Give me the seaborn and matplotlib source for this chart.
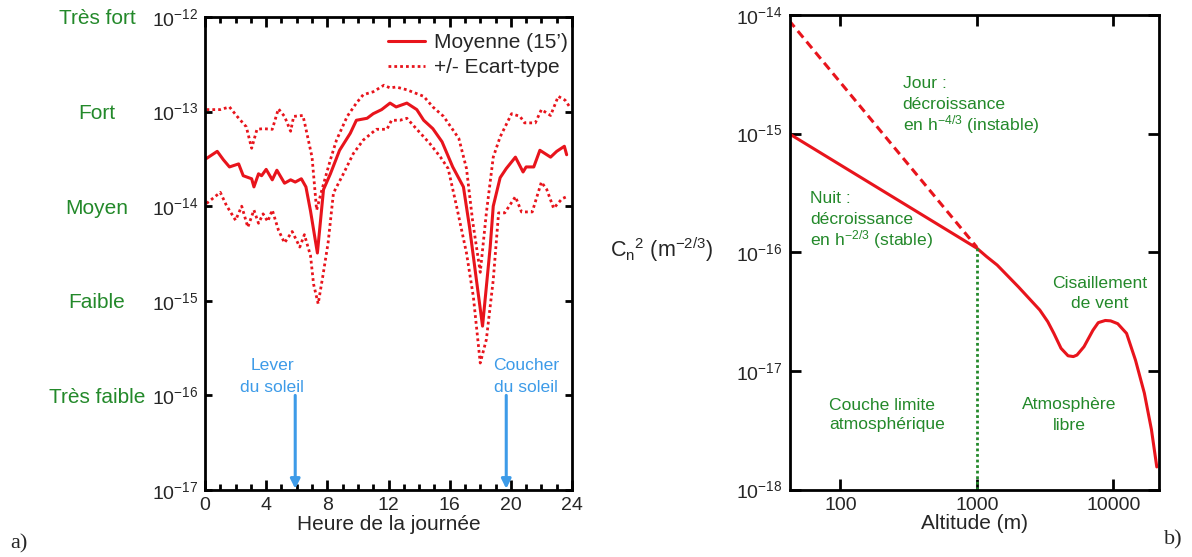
import matplotlib
matplotlib.use("Agg")
import matplotlib.pyplot as plt
import seaborn as sns
from matplotlib.ticker import MultipleLocator, NullLocator, FixedLocator, FixedFormatter

# ---------------- Data : panel a) ----------------
hours_mean = [0.1, 0.8, 1.2, 1.6, 2.2, 2.5, 3.05, 3.2, 3.5, 3.7, 4.0, 4.4, 4.7, 5.2, 5.6,
              5.9, 6.3, 6.6, 6.9, 7.35, 7.75, 8.2, 8.8, 9.5, 9.9, 10.6, 11.0, 11.55, 12.1, 12.5,
              13.2, 13.85, 14.3, 14.9, 15.5, 16.2, 16.9, 17.3, 17.75, 18.15, 18.65, 18.85, 19.3, 19.7, 20.3,
              20.8, 21.0, 21.5, 21.9, 22.6, 23.0, 23.5, 23.65]
cn2_mean = [3.2e-14, 3.8e-14, 3.1e-14, 2.6e-14, 2.8e-14, 2.1e-14, 1.95e-14, 1.6e-14, 2.2e-14, 2.1e-14,
            2.45e-14, 1.9e-14, 2.4e-14, 1.75e-14, 1.9e-14, 1.8e-14, 1.95e-14, 1.6e-14, 8.9e-15, 3.2e-15,
            1.5e-14, 2.2e-14, 3.9e-14, 5.9e-14, 8.1e-14, 8.5e-14, 9.5e-14, 1.05e-13, 1.23e-13, 1.12e-13,
            1.23e-13, 1.05e-13, 8.1e-14, 6.6e-14, 4.8e-14, 2.6e-14, 1.6e-14, 6.0e-15, 1.66e-15, 5.4e-16,
            3.7e-15, 1.0e-14, 2.0e-14, 2.5e-14, 3.3e-14, 2.3e-14, 2.6e-14, 2.6e-14, 3.9e-14, 3.3e-14,
            3.8e-14, 4.3e-14, 3.5e-14]

hours_upper = [0.1, 1.0, 1.6, 2.1, 2.7, 3.05, 3.4, 3.8, 4.4, 4.8, 5.2, 5.6, 5.8, 6.4, 6.5,
               7.0, 7.3, 7.65, 8.2, 8.6, 9.3, 9.9, 10.35, 11.0, 11.7, 12.1, 12.5, 13.2, 14.3, 14.9,
               15.6, 16.6, 17.1, 17.5, 18.0, 18.4, 18.85, 19.3, 20.05, 20.6, 20.9, 21.6, 22.0, 22.6, 23.1,
               23.55, 23.85]
cn2_upper = [1.05e-13, 1.05e-13, 1.12e-13, 8.9e-14, 6.9e-14, 4.1e-14, 6.5e-14, 6.6e-14, 6.5e-14, 1.07e-13,
             8.9e-14, 6.2e-14, 8.9e-14, 9.1e-14, 7.8e-14, 3.3e-14, 9.1e-15, 1.5e-14, 3.1e-14, 5.0e-14,
             8.9e-14, 1.23e-13, 1.51e-13, 1.62e-13, 1.9e-13, 1.78e-13, 1.82e-13, 1.7e-13, 1.45e-13, 1.12e-13,
             8.9e-14, 5.2e-14, 2.5e-14, 7.0e-15, 2.0e-15, 8.5e-15, 3.3e-14, 5.4e-14, 9.5e-14, 8.9e-14,
             7.6e-14, 7.6e-14, 1.05e-13, 9.1e-14, 1.45e-13, 1.32e-13, 1.12e-13]

hours_lower = [0.1, 1.0, 1.4, 2.0, 2.4, 2.8, 3.2, 3.5, 3.8, 4.1, 4.4, 4.8, 5.2, 5.7, 6.2,
               6.5, 6.9, 7.1, 7.4, 7.7, 8.05, 8.4, 9.05, 9.7, 10.35, 11.2, 11.9, 12.2, 12.75, 13.2,
               14.05, 14.7, 15.4, 15.9, 16.45, 17.1, 17.55, 18.0, 18.4, 18.85, 19.2, 19.6, 20.3, 20.7, 21.4,
               22.0, 22.35, 22.8, 23.35, 23.65]
cn2_lower = [1.07e-14, 1.4e-14, 1.02e-14, 7.1e-15, 1.0e-14, 6.0e-15, 9.1e-15, 6.6e-15, 8.3e-15, 6.9e-15,
             9.1e-15, 5.6e-15, 4.1e-15, 5.4e-15, 3.7e-15, 5.0e-15, 3.0e-15, 1.5e-15, 9.3e-16, 1.8e-15,
             4.1e-15, 1.38e-14, 2.2e-14, 3.6e-14, 5.0e-14, 6.5e-14, 6.5e-14, 8.1e-14, 8.1e-14, 8.5e-14,
             6.0e-14, 4.6e-14, 3.3e-14, 2.5e-14, 1.0e-14, 3.2e-15, 1.1e-15, 2.2e-16, 3.9e-16, 1.66e-15,
             8.5e-15, 8.5e-15, 1.26e-14, 8.7e-15, 8.7e-15, 1.8e-14, 1.5e-14, 9.5e-15, 1.2e-14, 1.26e-14]

level_labels = ["Très fort", "Fort", "Moyen", "Faible", "Très faible"]
level_values = [1e-12, 1e-13, 1e-14, 1e-15, 1e-16]
hour_ticks = [0, 4, 8, 12, 16, 20, 24]
sunrise_hour = 5.9
sunset_hour = 19.7

# ---------------- Data : panel b) ----------------
alt_day = [42, 1000]
cn2_day = [9.0e-15, 1.1e-16]
alt_profile = [42, 1000, 1175, 1406, 2014, 2884, 3300, 3660, 4128, 4648, 5083, 5403, 6083,
               7072, 7735, 8710, 9530, 10740, 12470, 14500, 16830, 18970, 20760]
cn2_profile = [1.0e-15, 1.08e-16, 9.2e-17, 7.8e-17, 5.1e-17, 3.26e-17, 2.6e-17, 2.07e-17,
               1.55e-17, 1.34e-17, 1.32e-17, 1.36e-17, 1.6e-17, 2.2e-17, 2.55e-17, 2.66e-17,
               2.64e-17, 2.5e-17, 2.07e-17, 1.23e-17, 6.5e-18, 3.2e-18, 1.55e-18]
boundary_alt = [1000, 1000]
boundary_cn2 = [1.08e-16, 1e-18]
alt_ticks = [100, 1000, 10000]
alt_tick_labels = ["100", "1000", "10000"]

# ---------------- Style ----------------
sns.set_style("ticks")
plt.rcParams["font.family"] = ["Liberation Sans", "DejaVu Sans"]
plt.rcParams["mathtext.fontset"] = "custom"
plt.rcParams["mathtext.rm"] = "Liberation Sans"
plt.rcParams["mathtext.it"] = "Liberation Sans"
plt.rcParams["mathtext.bf"] = "Liberation Sans:bold"
plt.rcParams["mathtext.default"] = "regular"

RED = "#e8141c"
GREEN = "#23892a"
BLUE = "#3d9be8"
W, H = 1192, 557

fig = plt.figure(figsize=(W / 100, H / 100), dpi=100)
fig.patch.set_facecolor("white")


def P(px, py):
    return px / W, 1 - py / H


def axes_rect(l, t, r, b):
    return [l / W, 1 - b / H, (r - l) / W, (b - t) / H]


ax1 = fig.add_axes(axes_rect(205, 17, 572, 490))
ax2 = fig.add_axes(axes_rect(790, 15, 1158.5, 489.5))

# ---------------- Panel a) ----------------
ax1.set_yscale("log")
sns.lineplot(x=hours_mean, y=cn2_mean, ax=ax1, color=RED, lw=2.2, estimator=None,
             errorbar=None, label="Moyenne (15\u2019)")
sns.lineplot(x=hours_upper, y=cn2_upper, ax=ax1, color=RED, lw=2.0, estimator=None,
             errorbar=None, linestyle=(0, (1, 1.1)), label="+/- Ecart-type")
sns.lineplot(x=hours_lower, y=cn2_lower, ax=ax1, color=RED, lw=2.0, estimator=None,
             errorbar=None, linestyle=(0, (1, 1.1)))
ax1.set_xlim(0, 24)
ax1.set_ylim(1e-17, 1e-12)
ax1.set_xticks(hour_ticks)
ax1.set_xticklabels([str(h) for h in hour_ticks])
ax1.xaxis.set_minor_locator(MultipleLocator(1))
ax1.yaxis.set_minor_locator(NullLocator())
ax1.yaxis.set_major_locator(FixedLocator([1e-17, 1e-16, 1e-15, 1e-14, 1e-13, 1e-12]))
ax1.tick_params(axis="both", which="both", direction="in", top=True, right=True,
                width=2, labelsize=14, color="black")
ax1.tick_params(axis="x", which="major", length=7.5, pad=5)
ax1.tick_params(axis="x", which="minor", length=4.3)
ax1.tick_params(axis="y", which="major", length=5, pad=5)
ax1.set_xlabel("Heure de la journée", fontsize=15, labelpad=1)
ax1.set_ylabel("")
for s in ax1.spines.values():
    s.set_linewidth(2)
    s.set_color("black")

leg = ax1.legend(loc="upper right", bbox_to_anchor=((568 - 205) / 367, (490 - 33) / 473),
                 frameon=False, fontsize=15, handlelength=1.75, handletextpad=0.45,
                 labelspacing=0.3, borderpad=0, borderaxespad=0)

ytr = ax1.get_yaxis_transform()
for lab, val in zip(level_labels, level_values):
    ax1.text((97 - 205) / 367, val, lab, transform=ytr, color=GREEN, fontsize=15,
             ha="center", va="center_baseline", clip_on=False)

for hr in (sunrise_hour, sunset_hour):
    ax1.annotate("", xy=(hr, 1.03e-17), xytext=(hr, 1.0e-16),
                 arrowprops=dict(arrowstyle="-|>", color=BLUE, lw=2.2, mutation_scale=14,
                                 shrinkA=0, shrinkB=0))

for cx, l1 in ((272, "Lever"), (526, "Coucher")):
    fig.text(*P(cx, 369.5), l1, color=BLUE, fontsize=12.6, ha="center", va="baseline")
    fig.text(*P(cx, 391.5), "du soleil", color=BLUE, fontsize=12.6, ha="center", va="baseline")

# ---------------- Panel b) ----------------
ax2.set_xscale("log")
ax2.set_yscale("log")
sns.lineplot(x=alt_day, y=cn2_day, ax=ax2, color=RED, lw=2.2, estimator=None,
             errorbar=None, linestyle=(0, (2.8, 1.7)))
sns.lineplot(x=alt_profile, y=cn2_profile, ax=ax2, color=RED, lw=2.2, estimator=None,
             errorbar=None)
sns.lineplot(x=boundary_alt, y=boundary_cn2, ax=ax2, color=GREEN, lw=2.0, estimator=None,
             errorbar=None, sort=False, linestyle=(0, (1, 1)))
ax2.set_xlim(42.7, 21370)
ax2.set_ylim(1e-18, 1e-14)
ax2.xaxis.set_major_locator(FixedLocator(alt_ticks))
ax2.xaxis.set_major_formatter(FixedFormatter(alt_tick_labels))
ax2.xaxis.set_minor_locator(NullLocator())
ax2.yaxis.set_major_locator(FixedLocator([1e-18, 1e-17, 1e-16, 1e-15, 1e-14]))
ax2.yaxis.set_minor_locator(NullLocator())
ax2.tick_params(axis="both", which="major", direction="in", top=True, right=True,
                width=2, length=8, labelsize=14, pad=5.5, color="black")
ax2.set_xlabel("Altitude (m)", fontsize=15, labelpad=0)
ax2.set_ylabel("")
for s in ax2.spines.values():
    s.set_linewidth(2)
    s.set_color("black")
if ax2.get_legend() is not None:
    ax2.get_legend().remove()

ann = dict(color=GREEN, fontsize=12.6, va="baseline")
fig.text(*P(902.7, 88), "Jour :", ha="left", **ann)
fig.text(*P(902.7, 109), "décroissance", ha="left", **ann)
fig.text(*P(902.7, 130), "en h$^{-4/3}$ (instable)", ha="left", **ann)
fig.text(*P(810, 203), "Nuit :", ha="left", **ann)
fig.text(*P(810, 224), "décroissance", ha="left", **ann)
fig.text(*P(810, 245), "en h$^{-2/3}$ (stable)", ha="left", **ann)
fig.text(*P(1100, 288), "Cisaillement", ha="center", **ann)
fig.text(*P(1100, 308), "de vent", ha="center", **ann)
fig.text(*P(829, 409.5), "Couche limite", ha="left", **ann)
fig.text(*P(829, 429.5), "atmosphérique", ha="left", **ann)
fig.text(*P(1069, 409.5), "Atmosphère", ha="center", **ann)
fig.text(*P(1069, 429.5), "libre", ha="center", **ann)

fig.text(*P(662, 250), "C$_n$$^2$ (m$^{-2/3}$)", fontsize=15.5, ha="center", va="center")
fig.text(*P(19, 544), "a)", fontsize=16, family=["Liberation Serif", "DejaVu Serif"],
         ha="center", va="center")
fig.text(*P(1173, 540), "b)", fontsize=16, family=["Liberation Serif", "DejaVu Serif"],
         ha="center", va="center")

fig.savefig("out.png", dpi=100, facecolor="white")
